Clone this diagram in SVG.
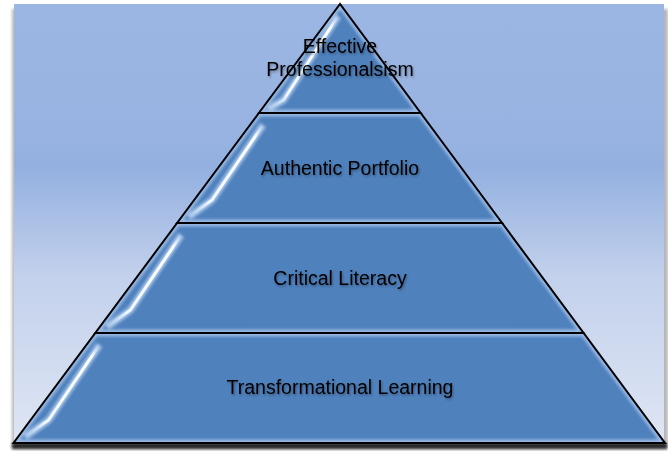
<svg xmlns="http://www.w3.org/2000/svg" width="668" height="451" viewBox="0 0 668 451">
<defs>
<linearGradient id="bg" x1="0" y1="0" x2="0" y2="1">
<stop offset="0" stop-color="#9cb6e3"/>
<stop offset="0.3" stop-color="#98b3e1"/>
<stop offset="0.37" stop-color="#93b0e0"/>
<stop offset="0.62" stop-color="#c3d1ec"/>
<stop offset="1" stop-color="#dfe6f4"/>
</linearGradient>
<linearGradient id="streak" x1="1" y1="0" x2="0" y2="1">
<stop offset="0" stop-color="#ffffff" stop-opacity="0"/>
<stop offset="0.12" stop-color="#ffffff" stop-opacity="1"/>
<stop offset="0.78" stop-color="#f2f8ff" stop-opacity="1"/>
<stop offset="1" stop-color="#d6e8fb" stop-opacity="0"/>
</linearGradient>
<filter id="blur1" x="-10%" y="-10%" width="120%" height="120%"><feGaussianBlur stdDeviation="1.6"/></filter>
<filter id="blur2" x="-10%" y="-50%" width="120%" height="200%"><feGaussianBlur stdDeviation="1.5"/></filter>
<filter id="tshadow" x="-10%" y="-30%" width="120%" height="160%"><feDropShadow dx="1" dy="1.5" stdDeviation="1" flood-color="#000" flood-opacity="0.35"/></filter>
<clipPath id="c1"><polygon points="340,4 258.9,113 420.7,113"/></clipPath>
<clipPath id="c2"><polygon points="258.9,113 420.7,113 502.1,223 177.1,223"/></clipPath>
<clipPath id="c3"><polygon points="177.1,223 502.1,223 583.6,333 95.3,333"/></clipPath>
<clipPath id="c4"><polygon points="95.3,333 583.6,333 665,443 13.5,443"/></clipPath>
</defs>
<style>
.tier{fill:#4f81bd}
.bevel{fill:none;stroke:#a7c3ea;stroke-width:7;filter:url(#blur1);opacity:0.85}
.edge{fill:none;stroke:#000;stroke-width:2;stroke-linejoin:miter}
.glow{fill:none;stroke:#c4dcf8;stroke-width:7;opacity:0.75;filter:url(#blur1)}
.hl{fill:none;stroke:url(#streak);stroke-width:3;stroke-linecap:round}
.lbl{font-family:"Liberation Sans",Arial,sans-serif;font-size:19.5px;fill:#000;text-anchor:middle;filter:url(#tshadow)}
</style>
<rect x="12" y="9" width="656" height="440" fill="#7a7a7a" opacity="0.55" filter="url(#blur2)"/>
<rect x="14" y="4" width="650" height="440" fill="url(#bg)"/>
<rect x="12" y="443" width="655" height="6" fill="#000" opacity="0.8" filter="url(#blur2)"/>

<g id="tier1">
<polygon class="tier" points="340,4 258.9,113 420.7,113"/>
<polygon class="bevel" clip-path="url(#c1)" points="340,4 258.9,113 420.7,113"/>
<path class="glow" clip-path="url(#c1)" d="M338.1,16 L283.6,100 L268,109"/>
<path class="hl" d="M338.1,16 L283.6,100 L268,109"/>
<polygon class="edge" points="340,4 258.9,113 420.7,113"/>
<text class="lbl" x="340" y="53">Effective</text>
<text class="lbl" x="340" y="76">Professionalsism</text>
</g>

<g id="tier2">
<polygon class="tier" points="258.9,113 420.7,113 502.1,223 177.1,223"/>
<polygon class="bevel" clip-path="url(#c2)" points="258.9,113 420.7,113 502.1,223 177.1,223"/>
<path class="glow" clip-path="url(#c2)" d="M263,125 L212,200 L188.6,217"/>
<path class="hl" d="M263,125 L212,200 L188.6,217"/>
<polygon class="edge" points="258.9,113 420.7,113 502.1,223 177.1,223"/>
<text class="lbl" x="340" y="175">Authentic Portfolio</text>
</g>

<g id="tier3">
<polygon class="tier" points="177.1,223 502.1,223 583.6,333 95.3,333"/>
<polygon class="bevel" clip-path="url(#c3)" points="177.1,223 502.1,223 583.6,333 95.3,333"/>
<path class="glow" clip-path="url(#c3)" d="M181.2,235 L130.4,310 L106.8,327"/>
<path class="hl" d="M181.2,235 L130.4,310 L106.8,327"/>
<polygon class="edge" points="177.1,223 502.1,223 583.6,333 95.3,333"/>
<text class="lbl" x="340" y="285">Critical Literacy</text>
</g>

<g id="tier4">
<polygon class="tier" points="95.3,333 583.6,333 665,443 13.5,443"/>
<polygon class="bevel" clip-path="url(#c4)" points="95.3,333 583.6,333 665,443 13.5,443"/>
<path class="glow" clip-path="url(#c4)" d="M99.4,345 L48.6,420 L25,437"/>
<path class="hl" d="M99.4,345 L48.6,420 L25,437"/>
<polygon class="edge" points="95.3,333 583.6,333 665,443 13.5,443"/>
<text class="lbl" x="340" y="394">Transformational Learning</text>
</g>
</svg>
